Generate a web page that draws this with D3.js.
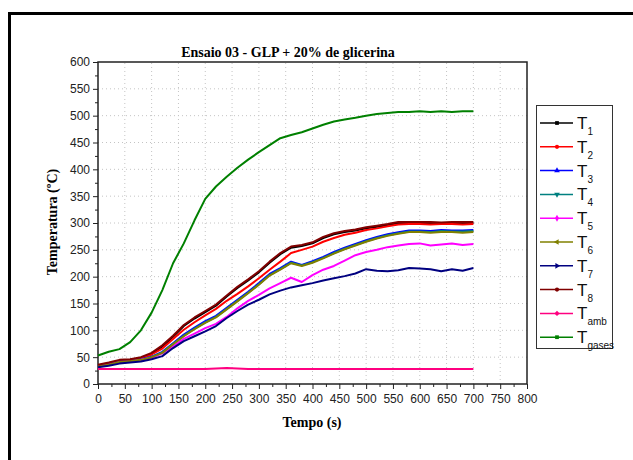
<!DOCTYPE html>
<html>
<head>
<meta charset="utf-8">
<script src="https://cdn.jsdelivr.net/npm/d3@7"></script>
<style>
  body { margin: 0; background: #fff; }
  svg { display: block; }
  .tick text { font-family: "Liberation Sans", Arial, sans-serif; font-size: 12px; fill: #222; }
  .axis path, .axis line { stroke: #222; }
  .axis-title { font-family: "Liberation Serif", "Times New Roman", serif; font-weight: bold; font-size: 14px; }
</style>
</head>
<body>
<div id="chart"></div>
<script>
// time axis (s)
const times = [0, 20, 40, 60, 80, 100, 120, 140, 160, 180, 200, 220, 240, 260, 280, 300, 320, 340,
  360, 380, 400, 420, 440, 460, 480, 500, 520, 540, 560, 580, 600, 620, 640, 660, 680, 700];

const t1 = [34, 38, 43, 45, 48, 56, 70, 88, 108, 122, 134, 146, 163, 179, 193, 208, 226, 242,
  254, 257, 262, 272, 279, 283, 286, 290, 293, 296, 300, 300, 300, 300, 299, 300, 300, 300];
const t2 = [35, 38, 43, 45, 48, 55, 66, 84, 101, 115, 128, 140, 155, 168, 182, 197, 213, 228,
  244, 250, 256, 265, 272, 278, 282, 287, 290, 294, 297, 298, 298, 297, 298, 298, 297, 298];
const t3 = [33, 37, 42, 44, 46, 51, 60, 76, 92, 105, 117, 127, 142, 157, 172, 188, 205, 216,
  228, 222, 229, 237, 246, 254, 261, 268, 274, 279, 283, 286, 286, 285, 287, 286, 286, 287];
const t4 = [33, 36, 41, 43, 45, 50, 59, 75, 90, 103, 115, 125, 140, 155, 170, 186, 203, 214,
  226, 221, 227, 235, 244, 252, 259, 266, 272, 277, 281, 284, 284, 283, 285, 284, 284, 285];
const t5 = [33, 36, 41, 43, 45, 49, 57, 70, 84, 94, 104, 112, 125, 141, 155, 166, 178, 188,
  198, 190, 203, 213, 220, 230, 240, 246, 250, 255, 258, 261, 262, 258, 260, 262, 259, 261];
const t6 = [33, 36, 41, 43, 45, 50, 58, 74, 89, 102, 114, 124, 139, 154, 169, 185, 202, 213,
  225, 220, 226, 234, 243, 251, 258, 265, 271, 276, 280, 283, 283, 282, 283, 283, 282, 283];
const t7 = [31, 34, 38, 40, 42, 46, 52, 67, 80, 89, 98, 108, 123, 136, 148, 157, 167, 174,
  180, 184, 188, 193, 197, 201, 206, 214, 211, 210, 212, 216, 215, 214, 210, 214, 211, 216];
const t8 = [36, 40, 45, 46, 50, 58, 72, 90, 110, 124, 136, 148, 165, 181, 195, 210, 228, 244,
  256, 259, 264, 274, 281, 285, 288, 292, 295, 298, 302, 302, 302, 302, 301, 302, 302, 302];
const tamb = [28, 28, 28, 28, 28, 28, 28, 28, 28, 28, 28, 29, 30, 29, 28, 28, 28, 28,
  28, 28, 28, 28, 28, 28, 28, 28, 28, 28, 28, 28, 28, 28, 28, 28, 28, 28];
const tgases = [53, 60, 65, 78, 100, 133, 175, 225, 262, 305, 345, 368, 386, 403, 418, 432, 445, 458,
  464, 469, 476, 483, 489, 493, 496, 500, 503, 505, 507, 507, 508, 507, 508, 507, 508, 508];

const seriesNames = ['1', '2', '3', '4', '5', '6', '7', '8', 'amb', 'gases'];
const seriesValues = [t1, t2, t3, t4, t5, t6, t7, t8, tamb, tgases];
const seriesColors = ['#000000', '#ff0000', '#0000ff', '#008080', '#ff00ff', '#808000',
  '#000080', '#800000', '#ff0080', '#008000'];
const seriesSymbols = [d3.symbolSquare, d3.symbolCircle, d3.symbolTriangle, d3.symbolTriangle,
  d3.symbolDiamond, d3.symbolTriangle, d3.symbolTriangle, d3.symbolCircle, d3.symbolSquare, d3.symbolSquare];
const symbolRotate = [0, 0, 0, 180, 0, -90, 90, 0, 45, 0];

const xTicks = d3.range(0, 801, 50);
const yTicks = d3.range(0, 601, 50);

const width = 633, height = 460;
const svg = d3.select('#chart').append('svg')
  .attr('width', width)
  .attr('height', height);

// outer frame (runs off the right and bottom edges)
svg.append('rect')
  .attr('x', 9.5).attr('y', 13.5)
  .attr('width', 660).attr('height', 480)
  .attr('fill', 'none')
  .attr('stroke', '#000')
  .attr('stroke-width', 3);

const x = d3.scaleLinear().domain([0, 800]).range([98, 527]);
const y = d3.scaleLinear().domain([0, 600]).range([384, 62]);

// dotted grid
svg.append('g').selectAll('line')
  .data(xTicks.slice(1, -1))
  .join('line')
  .attr('x1', d => x(d)).attr('x2', d => x(d))
  .attr('y1', y(0)).attr('y2', y(600))
  .attr('stroke', '#c4c4c4').attr('stroke-width', 1).attr('stroke-dasharray', '1,3');
svg.append('g').selectAll('line')
  .data(yTicks.slice(1, -1))
  .join('line')
  .attr('y1', d => y(d)).attr('y2', d => y(d))
  .attr('x1', x(0)).attr('x2', x(800))
  .attr('stroke', '#c4c4c4').attr('stroke-width', 1).attr('stroke-dasharray', '1,3');

// axes
const xAxisG = svg.append('g')
  .attr('class', 'axis')
  .attr('transform', `translate(0,${y(0)})`)
  .call(d3.axisBottom(x).tickValues(xTicks).tickSize(5).tickPadding(5).tickFormat(d3.format('d')));
xAxisG.select('.domain').remove();
svg.append('g')
  .attr('class', 'axis')
  .attr('transform', `translate(0,${y(0)})`)
  .call(d3.axisBottom(x).tickValues(xTicks.slice(0, -1).map(d => d + 25)).tickSize(3).tickFormat(''))
  .select('.domain').remove();

const yAxisG = svg.append('g')
  .attr('class', 'axis')
  .attr('transform', `translate(${x(0)},0)`)
  .call(d3.axisLeft(y).tickValues(yTicks).tickSize(5).tickPadding(3).tickFormat(d3.format('d')));
yAxisG.select('.domain').remove();
svg.append('g')
  .attr('class', 'axis')
  .attr('transform', `translate(${x(0)},0)`)
  .call(d3.axisLeft(y).tickValues(yTicks.slice(0, -1).map(d => d + 25)).tickSize(3).tickFormat(''))
  .select('.domain').remove();

// plot frame
svg.append('rect')
  .attr('x', x(0)).attr('y', y(600))
  .attr('width', x(800) - x(0)).attr('height', y(0) - y(600))
  .attr('fill', 'none').attr('stroke', '#222').attr('stroke-width', 1.5);

// lines
const line = d3.line()
  .x((d, i) => x(times[i]))
  .y(d => y(d));

svg.append('g').selectAll('path')
  .data(seriesValues)
  .join('path')
  .attr('d', line)
  .attr('fill', 'none')
  .attr('stroke', (d, i) => seriesColors[i])
  .attr('stroke-width', 2)
  .attr('stroke-linejoin', 'round');

// titles
svg.append('text')
  .attr('class', 'axis-title')
  .attr('x', 288).attr('y', 57)
  .attr('text-anchor', 'middle')
  .text('Ensaio 03 - GLP + 20% de glicerina');

svg.append('text')
  .attr('class', 'axis-title')
  .attr('x', 312).attr('y', 427)
  .attr('text-anchor', 'middle')
  .text('Tempo (s)');

svg.append('text')
  .attr('class', 'axis-title')
  .attr('transform', 'translate(57,222) rotate(-90)')
  .attr('text-anchor', 'middle')
  .text('Temperatura (ºC)');

// legend
const legend = svg.append('g');
legend.append('rect')
  .attr('x', 536.5).attr('y', 105.5)
  .attr('width', 76).attr('height', 243)
  .attr('fill', '#fff').attr('stroke', '#333').attr('stroke-width', 1);

const items = legend.selectAll('g.item')
  .data(seriesNames)
  .join('g')
  .attr('class', 'item')
  .attr('transform', (d, i) => `translate(0,${123 + i * 23.8})`);

items.append('line')
  .attr('x1', 540).attr('x2', 573)
  .attr('stroke', (d, i) => seriesColors[i])
  .attr('stroke-width', 1.5);

items.append('path')
  .attr('d', (d, i) => d3.symbol().type(seriesSymbols[i]).size(14)())
  .attr('transform', (d, i) => `translate(557,0) rotate(${symbolRotate[i]})`)
  .attr('fill', (d, i) => seriesColors[i]);

const lbl = items.append('text')
  .attr('x', 577).attr('y', 6)
  .attr('font-family', '"Liberation Sans", Arial, sans-serif')
  .attr('font-size', 17)
  .attr('fill', '#111');
lbl.append('tspan').text('T');
lbl.append('tspan')
  .attr('font-size', 10)
  .attr('dy', 6)
  .text(d => d);
</script>
</body>
</html>
